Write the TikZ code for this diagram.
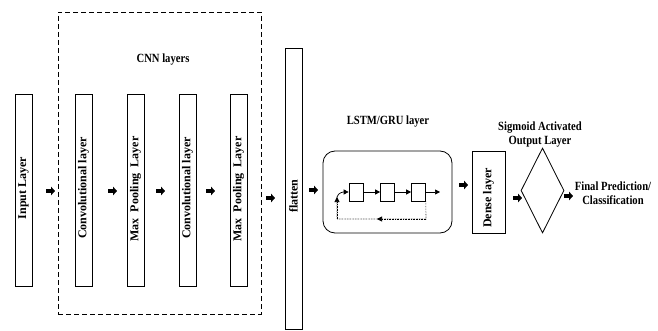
\documentclass[tikz,border=0pt]{standalone}
\usepackage{fontspec}
\setmainfont{Liberation Serif}
\newfontfamily\cond[FakeStretch=0.85]{Liberation Serif}
\usetikzlibrary{arrows.meta,shapes.geometric}
\begin{document}
\begin{tikzpicture}[x=1pt,y=-1pt,
  layer/.style={draw,line width=0.8pt,rotate=90,minimum height=17pt,inner sep=0pt},
  vtext/.style={rotate=90,font=\bfseries\fontsize{12}{12}\selectfont},
  htext/.style={font=\cond\bfseries\fontsize{12.5}{14}\selectfont,align=center},
  blk/.style={line width=3.2pt,-{Triangle[length=4pt,width=8.5pt]}},
  cell/.style={draw,line width=0.7pt,minimum width=14pt,minimum height=18pt,inner sep=0pt},
  thin/.style={line width=0.7pt,-{Triangle[length=5pt,width=5pt]}}
]
\useasboundingbox (0,0) rectangle (658,331);
% dashed CNN box
\node[draw,dash pattern=on 5pt off 3pt,line width=0.8pt,minimum width=203pt,minimum height=302pt,inner sep=0pt] (cnn) at (159.5,163) {};
\node[htext] (cnnlbl) at (163,60) {CNN layers};
% layers
\node[layer,minimum width=192pt] (in) at (23.5,190) {};
\node[vtext] at (23.5,188) {Input Layer};
\node[layer,minimum width=192pt] (c1) at (83.5,190) {};
\node[vtext] at (83.5,188) {Convolutional layer};
\node[layer,minimum width=192pt] (p1) at (135.5,190) {};
\node[vtext] at (135.5,189) {Max\ \ Pooling\ \ Layer};
\node[layer,minimum width=192pt] (c2) at (187.5,190) {};
\node[vtext] at (187.5,188) {Convolutional layer};
\node[layer,minimum width=192pt] (p2) at (238.5,190) {};
\node[vtext] at (238.5,189) {Max\ \ Pooling\ \ Layer};
\node[layer,minimum width=281pt] (fl) at (293.5,188.5) {};
\node[vtext] at (293.5,196) {flatten};
% block arrows
\coordinate (a1) at (46,191); \coordinate (b1) at (55,191);
\coordinate (a2) at (108,191); \coordinate (b2) at (117,191);
\coordinate (a3) at (156,191); \coordinate (b3) at (165,191);
\coordinate (a4) at (206,191); \coordinate (b4) at (215,191);
\coordinate (a5) at (266,198); \coordinate (b5) at (275,198);
\coordinate (a6) at (309,190); \coordinate (b6) at (318,190);
\coordinate (a7) at (459,185); \coordinate (b7) at (468,185);
\coordinate (a8) at (513,198); \coordinate (b8) at (522,198);
\coordinate (a9) at (564,196); \coordinate (b9) at (573,196);
\foreach \i in {1,...,9} \draw[blk] (a\i) -- (b\i);
% LSTM
\node[htext] (lstmlbl) at (388,122) {LSTM/GRU layer};
\node[draw,line width=0.8pt,rounded corners=12pt,minimum width=129pt,minimum height=82pt,inner sep=0pt] (lstm) at (387.5,192) {};
\node[cell] (s1) at (356,192) {};
\node[cell] (s2) at (387.5,192) {};
\node[cell] (s3) at (418.5,192) {};
\coordinate (o3) at (440,192);
\draw[thin] (s1) -- (s2);
\draw[thin] (s2) -- (s3);
\draw[thin] (s3) -- (o3);
\coordinate (f1) at (426,219);
\coordinate (fm) at (377,219);
\coordinate (f2) at (337,219);
\coordinate (f3) at (337,197);
\draw[line width=0.6pt,densely dotted] (s3.south east) -- (f1) -- (f2) -- (f3);
\draw[line width=0.6pt,densely dotted,-{Triangle[length=5pt,width=5pt]}] (f1) -- (fm);
\draw[line width=0.6pt,densely dotted,-{Triangle[length=5pt,width=5pt]}] (f2) -- (f3);
\draw[thin] (f3) to[out=75,in=180] (s1.west);
% dense
\node[layer,minimum width=82pt,minimum height=33pt] (dense) at (488.5,192) {};
\node[vtext] at (488.5,198) {Dense layer};
% sigmoid
\node[htext] (siglbl) at (540,135) {Sigmoid Activated\\Output Layer};
\node[draw,line width=0.8pt,diamond,minimum width=43pt,minimum height=85pt,inner sep=0pt] (dia) at (542.5,190.5) {};
\node[htext] (final) at (613,193) {Final Prediction/\\Classification};
\end{tikzpicture}
\end{document}
